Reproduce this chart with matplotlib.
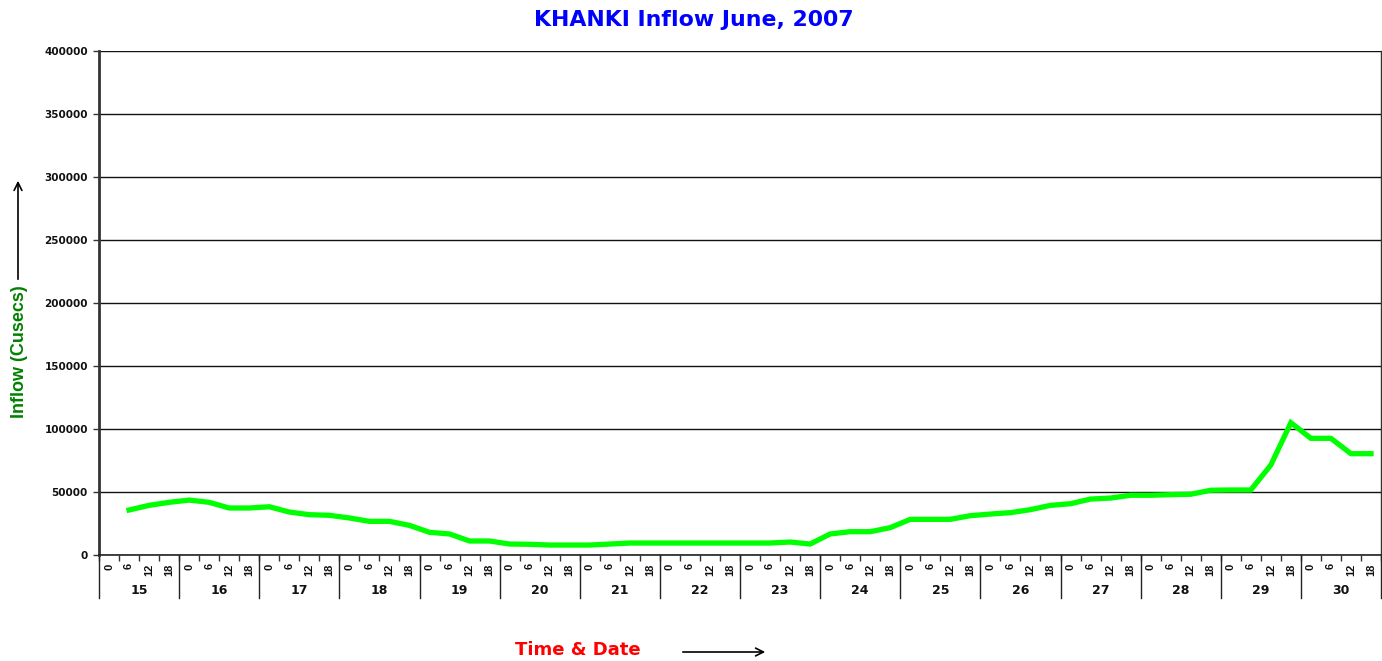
import numpy as np
import matplotlib
matplotlib.use("Agg")
import matplotlib.pyplot as plt
from matplotlib.transforms import blended_transform_factory

plt.rcParams['font.family'] = ['Liberation Sans', 'DejaVu Sans']
WIDE = ['DejaVu Sans']

title = "KHANKI Inflow June, 2007"
days = [str(d) for d in range(15, 31)]
hours = ["0", "6", "12", "18"]
# inflow values (cusecs) starting at day 15, hour 6 through day 30, hour 18
inflow = [
    35700, 39400, 41800,                 # 15
    43600, 41800, 37300, 37300,          # 16
    38300, 34100, 32000, 31500,          # 17
    29400, 26700, 26700, 23500,          # 18
    18000, 16700, 11100, 11100,          # 19
    8700, 8500, 7900, 7900,              # 20
    7900, 8700, 9500, 9500,              # 21
    9500, 9500, 9500, 9500,              # 22
    9500, 9500, 10300, 8700,             # 23
    16700, 18500, 18500, 21700,          # 24
    28300, 28300, 28300, 31200,          # 25
    32500, 33600, 36000, 39400,          # 26
    40700, 44400, 45200, 47400,          # 27
    47400, 47900, 48200, 51400,          # 28
    51600, 51600, 71400, 105000,         # 29
    92600, 92600, 80400, 80400,          # 30
]
start_slot = 1  # data begins at the "6" slot of the first day

W, H = 1382, 661
fig = plt.figure(figsize=(W / 100, H / 100), dpi=100)
ax = fig.add_axes([99 / W, 1 - 555 / H, (1381 - 99) / W, (555 - 51) / H])

n_slots = len(days) * len(hours)
x = np.arange(start_slot, start_slot + len(inflow)) + 0.5
ax.plot(x, inflow, color='#00FF00', lw=3.8, solid_joinstyle='miter', zorder=3, clip_on=False)

ax.set_xlim(0, n_slots)
ax.set_ylim(0, 400000)
ax.set_yticks(np.arange(0, 400001, 50000))
ax.set_yticklabels([str(v) for v in range(0, 400001, 50000)], fontsize=7.5, fontweight='bold',
                   color='#111111', family=WIDE)
ax.tick_params(axis='y', length=4, width=1, color='#333333', pad=4)
ax.yaxis.grid(True, color='#111111', lw=1.0)
ax.set_axisbelow(True)

ax.spines['top'].set_visible(False)
ax.spines['left'].set_linewidth(2)
ax.spines['left'].set_color('#333333')
ax.spines['bottom'].set_linewidth(1.2)
ax.spines['bottom'].set_color('#222222')
ax.spines['right'].set_linewidth(1.0)
ax.spines['right'].set_color('#333333')

# hour labels
centers = np.arange(n_slots) + 0.5
ax.set_xticks(centers)
ax.set_xticklabels(hours * len(days), rotation=90, fontsize=8, fontweight='bold', color='#111111')
ax.tick_params(axis='x', which='major', length=0, pad=6)
ax.set_xticks(np.arange(0, n_slots + 1), minor=True)
ax.tick_params(axis='x', which='minor', length=4, width=1, color='#333333')

trans = blended_transform_factory(ax.transData, ax.transAxes)
per_day = len(hours)
for i, d in enumerate(days):
    ax.text(i * per_day + per_day / 2, -36 / 504, d, transform=trans, ha='center', va='center',
            fontsize=9, fontweight='bold', color='#111111', family=WIDE)
for i in range(len(days) + 1):
    ax.plot([i * per_day, i * per_day], [0, -43 / 504], transform=trans, color='#222222', lw=1.0, clip_on=False)

fig.text(694 / W, 1 - 20 / H, title, ha='center', va='center', fontsize=15.8, fontweight='bold',
         color='#0000FF', family=WIDE)
fig.text(20 / W, 1 - 352 / H, "Inflow (Cusecs)", rotation=90, ha='center', va='center',
         fontsize=13, fontweight='bold', color='#008000')
fig.text(578 / W, 1 - 650 / H, "Time & Date", ha='center', va='center', fontsize=13, fontweight='bold',
         color='#FF0000', family=WIDE)

ax.annotate('', xy=(18 / W, 1 - 178 / H), xytext=(18 / W, 1 - 282 / H), xycoords='figure fraction',
            arrowprops=dict(arrowstyle='->', color='black', lw=1.2, mutation_scale=14))
ax.annotate('', xy=(768 / W, 1 - 652 / H), xytext=(680 / W, 1 - 652 / H), xycoords='figure fraction',
            arrowprops=dict(arrowstyle='->', color='black', lw=1.2, mutation_scale=14))

fig.savefig("out.png", dpi=100, facecolor='white')
